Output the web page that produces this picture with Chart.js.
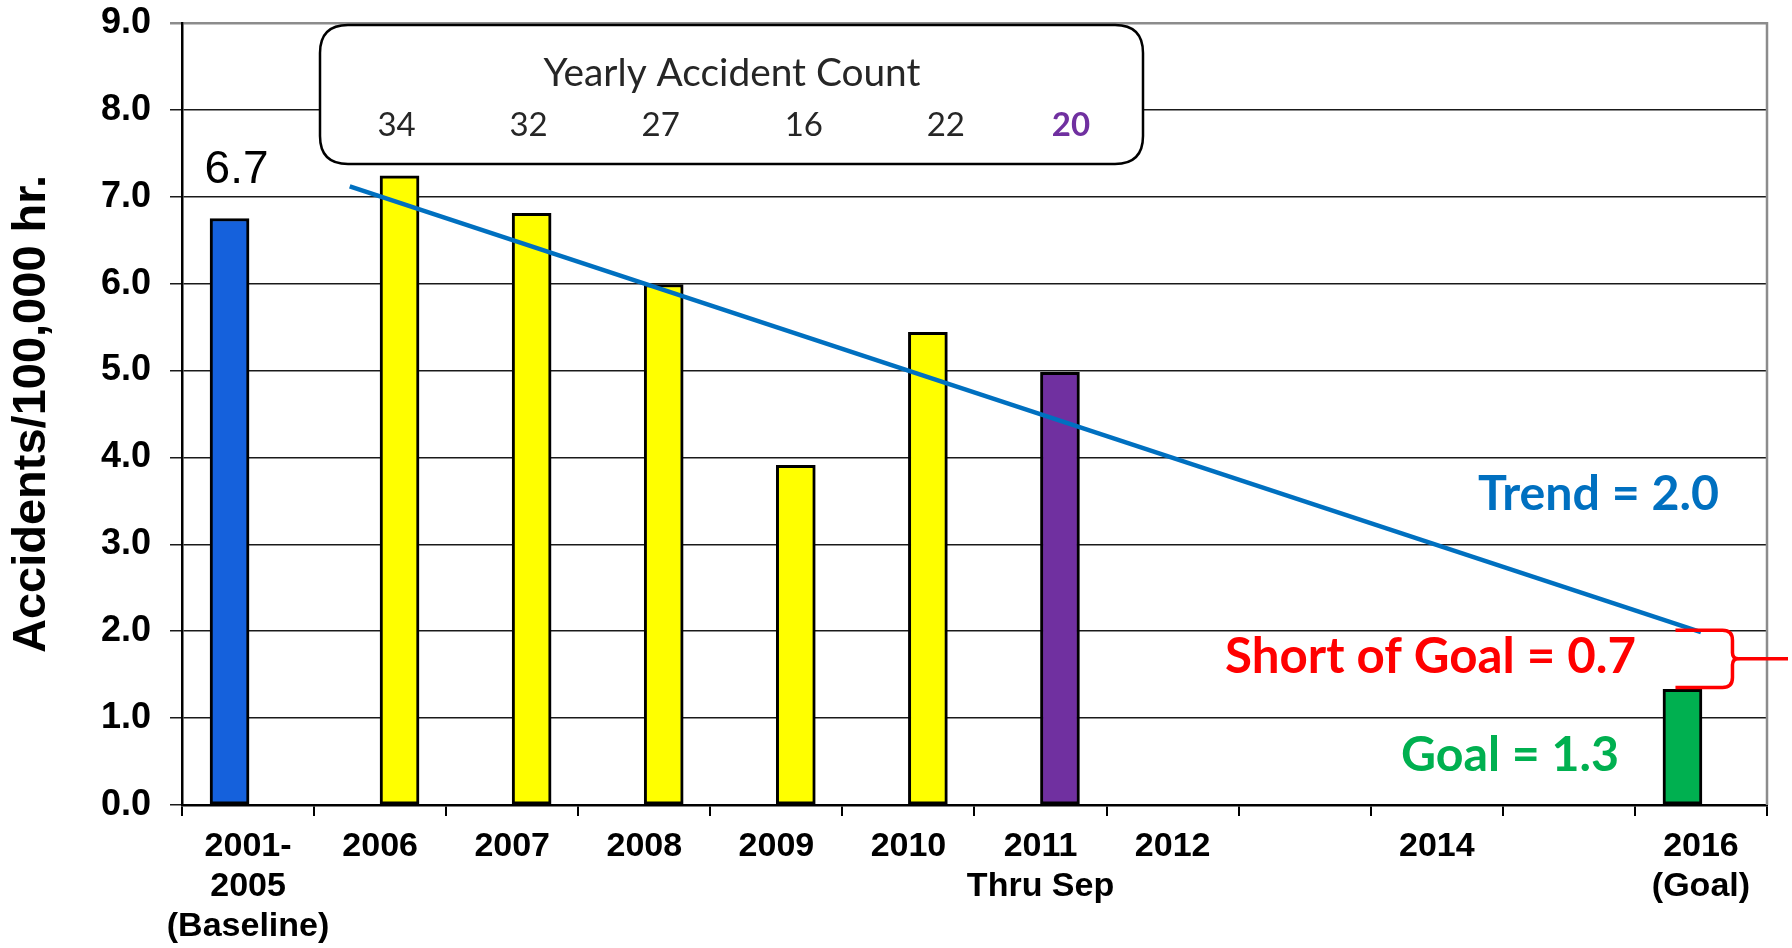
<!DOCTYPE html>
<html><head><meta charset="utf-8">
<script src="https://cdn.jsdelivr.net/npm/chart.js@4/dist/chart.umd.min.js"></script>
<style>html,body{margin:0;padding:0;background:#fff;overflow:hidden}#wrap{width:1792px;height:948px;position:relative}</style>
</head><body><div id="wrap"><canvas id="c" width="1792" height="948"></canvas></div>
<script>
// ---------- data ----------
const categories = [["2001-","2005","(Baseline)"],"2006","2007","2008","2009","2010",["2011","Thru Sep"],"2012","","2014","",["2016","(Goal)"]];
const referenceValues = [6.75,null,null,null,null,null,null,null,null,null,null,1.33]; // baseline & goal
const yearlyValues = [null,7.24,6.81,5.99,3.91,5.44,4.98,null,null,null,null,null];
const referenceColors = ['#1561DC',null,null,null,null,null,null,null,null,null,null,'#00B050'];
const yearlyColors = [null,'#FFFF00','#FFFF00','#FFFF00','#FFFF00','#FFFF00','#7030A0',null,null,null,null,null];
const yearlyCounts = [34,32,27,16,22,20];
const yearlyCountIdx = [1,2,3,4,5,6];
const trendX = [0.77, 11];
const trendY = [7.12, 1.99];
const baselineLabel = "6.7";
const goalValue = 1.3, trendValue = 2.0, shortValue = 0.7;
const yMin = 0, yMax = 9, yStep = 1;

// clustered-bar slot offsets (in category units)
const SLOT_L = -0.14, SLOT_R = 0.147;
const ARIAL = '"Liberation Sans", Arial, sans-serif';
const CAL = 'Lato, "Open Sans", sans-serif';
const countNudge = [-3, -3, -3, 8, 18, 11];

function toPoints(values, off){
  return values.map((v, i) => v == null ? null : {x: i + off, y: v, i}).filter(Boolean);
}
function fitFont(ctx, text, weight, family, w){
  ctx.font = weight + ' 100px ' + family;
  return 100 * w / ctx.measureText(text).width;
}
function noPad(s){ s.paddingLeft = 0; s.paddingRight = 0; s.paddingTop = 0; s.paddingBottom = 0; }

const annot = {
  id: 'annot',
  beforeDatasetsDraw(chart){
    const {ctx, chartArea: ca, scales} = chart;
    const L = ca.left + 138, T = ca.top + 2, R = ca.left + 961, B = ca.top + 141, r = 28;
    ctx.save();
    ctx.beginPath();
    ctx.moveTo(L + r, T); ctx.lineTo(R - r, T); ctx.quadraticCurveTo(R, T, R, T + r);
    ctx.lineTo(R, B - r); ctx.quadraticCurveTo(R, B, R - r, B);
    ctx.lineTo(L + r, B); ctx.quadraticCurveTo(L, B, L, B - r);
    ctx.lineTo(L, T + r); ctx.quadraticCurveTo(L, T, L + r, T); ctx.closePath();
    ctx.fillStyle = '#fff'; ctx.fill();
    ctx.lineWidth = 2.5; ctx.strokeStyle = '#000'; ctx.stroke();
    const t = 'Yearly Accident Count';
    const fs = fitFont(ctx, t, 'normal', CAL, 377);
    ctx.font = 'normal ' + fs + 'px ' + CAL;
    ctx.fillStyle = '#262626'; ctx.textAlign = 'center'; ctx.textBaseline = 'alphabetic';
    ctx.fillText(t, ca.left + 550, ca.top + 63);
    yearlyCounts.forEach((v, i) => {
      const x = scales.xl.getPixelForValue(yearlyCountIdx[i] + SLOT_R);
      const last = i === yearlyCounts.length - 1;
      ctx.font = (last ? 'bold ' : 'normal ') + '33px ' + CAL;
      ctx.fillStyle = last ? '#7030A0' : '#262626';
      ctx.fillText(String(v), x + countNudge[i], ca.top + 113);
    });
    ctx.restore();
  },
  afterDatasetsDraw(chart){
    const {ctx, chartArea: ca, scales} = chart;
    const y = scales.y, xl = scales.xl;
    ctx.save();
    ctx.strokeStyle = '#8c8c8c'; ctx.lineWidth = 2.5;
    ctx.beginPath(); ctx.moveTo(ca.right, ca.top - 1); ctx.lineTo(ca.right, ca.bottom); ctx.stroke();
    // 6.7 label
    const bx = xl.getPixelForValue(0 + SLOT_L), by = y.getPixelForValue(referenceValues[0]);
    ctx.font = 'normal 46px ' + ARIAL; ctx.fillStyle = '#000';
    ctx.textAlign = 'center'; ctx.textBaseline = 'alphabetic';
    ctx.fillText(baselineLabel, bx + 7, by - 36);
    // Trend label
    let s = 'Trend = ' + trendValue.toFixed(1);
    let fs = fitFont(ctx, s, 'bold', CAL, 241);
    ctx.font = 'bold ' + fs + 'px ' + CAL; ctx.fillStyle = '#0070C0';
    ctx.textAlign = 'right';
    ctx.fillText(s, ca.right - 48, y.getPixelForValue(trendValue) - 121);
    s = 'Short of Goal = ' + shortValue.toFixed(1);
    fs = fitFont(ctx, s, 'bold', CAL, 411);
    ctx.font = 'bold ' + fs + 'px ' + CAL; ctx.fillStyle = '#FF0000';
    ctx.fillText(s, ca.right - 131, y.getPixelForValue(trendValue) + 42);
    s = 'Goal = ' + goalValue.toFixed(1);
    fs = fitFont(ctx, s, 'bold', CAL, 218);
    ctx.font = 'bold ' + fs + 'px ' + CAL; ctx.fillStyle = '#00B050';
    ctx.fillText(s, ca.right - 148, y.getPixelForValue(0) - 34);
    // brace
    const gx = xl.getPixelForValue(11 + SLOT_L);
    const yt = y.getPixelForValue(trendValue) - 1, yb = y.getPixelForValue(referenceValues[11]) - 2, ym = (yt + yb) / 2;
    const x0 = gx - 7, xv = gx + 50, xt = gx + 56;
    ctx.strokeStyle = '#FF0000'; ctx.lineWidth = 3.5; ctx.lineJoin = 'round'; ctx.lineCap = 'butt';
    ctx.beginPath();
    ctx.moveTo(x0, yt); ctx.lineTo(xv - 10, yt);
    ctx.quadraticCurveTo(xv, yt, xv, yt + 10);
    ctx.lineTo(xv, ym - 6); ctx.quadraticCurveTo(xv, ym, xt, ym);
    ctx.quadraticCurveTo(xv, ym, xv, ym + 6);
    ctx.lineTo(xv, yb - 10); ctx.quadraticCurveTo(xv, yb, xv - 10, yb);
    ctx.lineTo(x0, yb);
    ctx.stroke();
    ctx.beginPath(); ctx.moveTo(xt, ym); ctx.lineTo(chart.width - 4, ym); ctx.stroke();
    ctx.restore();
  }
};

const barCommon = { type: 'bar', grouped: false, barThickness: 39, borderColor: '#000', borderWidth: 3, borderSkipped: false, order: 2, xAxisID: 'xl', yAxisID: 'y' };

new Chart(document.getElementById('c'), {
  data: {
    labels: categories,
    datasets: [
      Object.assign({}, barCommon, { data: toPoints(referenceValues, SLOT_L), backgroundColor: c => c.raw ? referenceColors[c.raw.i] : '#000' }),
      Object.assign({}, barCommon, { data: toPoints(yearlyValues, SLOT_R), backgroundColor: c => c.raw ? yearlyColors[c.raw.i] : '#000' }),
      { type: 'line', data: trendX.map((x, i) => ({x, y: trendY[i]})), borderColor: '#0070C0', borderWidth: 4.5, pointRadius: 0, fill: false, order: 0, xAxisID: 'xl', yAxisID: 'y' }
    ]
  },
  options: {
    responsive: false, animation: false,
    layout: { padding: { top: 23, right: 25, left: 0, bottom: 0 } },
    plugins: { legend: { display: false }, tooltip: { enabled: false } },
    scales: {
      x: {
        type: 'category', offset: true, position: 'bottom',
        grid: { offset: true, drawOnChartArea: false, drawTicks: true, tickLength: 11, color: '#000', lineWidth: 2 },
        border: { display: true, color: '#000', width: 2.5 },
        ticks: { autoSkip: false, maxRotation: 0, minRotation: 0, color: '#000', padding: 11,
          font: { family: ARIAL, size: 34, weight: 'bold', lineHeight: 1.17 } },
        afterFit(s){ s.height = 143; noPad(s); }
      },
      xl: { type: 'linear', display: false, position: 'bottom', offset: false, min: -0.5, max: 11.5,
        afterFit(s){ s.height = 0; noPad(s); } },
      y: {
        min: yMin, max: yMax, position: 'left',
        grid: { color: c => c.tick && c.tick.value === yMax ? '#8c8c8c' : '#1a1a1a', lineWidth: c => c.tick && c.tick.value === yMax ? 2.5 : 1.5, tickLength: 12 },
        border: { display: true, color: '#000', width: 2.5 },
        ticks: { stepSize: yStep, color: '#000', padding: 19, callback: v => Number(v).toFixed(1),
          font: { family: ARIAL, size: 36, weight: 'bold' } },
        title: { display: true, text: 'Accidents/100,000 hr.', color: '#000', padding: { top: 4, bottom: 0 },
          font: { family: ARIAL, size: 47, weight: 'bold' } },
        afterFit(s){ s.width = 182; noPad(s); }
      }
    }
  },
  plugins: [annot]
});
</script></body></html>
